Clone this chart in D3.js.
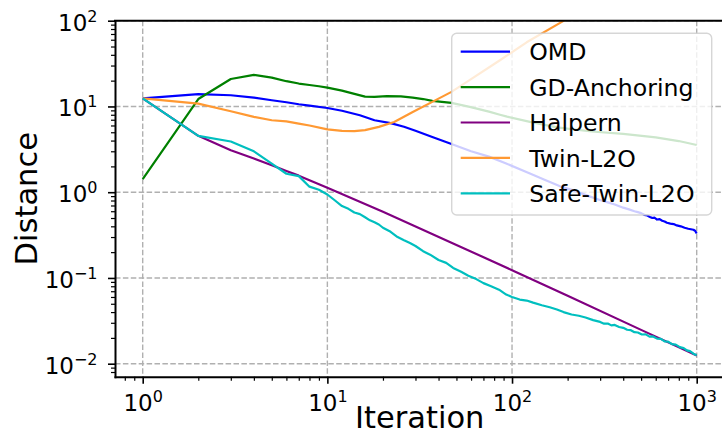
<!DOCTYPE html>
<html>
<head>
<meta charset="utf-8">
<script src="https://cdn.jsdelivr.net/npm/d3@7/dist/d3.min.js"></script>
<style>
  html, body { margin: 0; padding: 0; background: #ffffff; }
  svg { display: block; font-family: "DejaVu Sans", sans-serif; }
</style>
</head>
<body>
<svg id="chart" width="722" height="435"></svg>
<script>
// ---- series ----
const seriesNames  = ["OMD", "GD-Anchoring", "Halpern", "Twin-L2O", "Safe-Twin-L2O"];
const seriesColors = ["#0000ff", "#008000", "#800080", "#ff9933", "#00bfbf"];

const omdIter = [1, 2, 3, 4, 5, 6, 7, 8, 10, 12, 15, 18, 22, 26, 30, 37, 47, 60, 75, 93, 125, 150, 182, 215, 260, 299,
  330, 360, 400, 430, 460, 480, 500, 520, 540, 558, 575, 590, 610, 630, 650, 670, 690, 720, 750, 780, 820, 860, 900, 930, 960, 980, 1000];
const omdDist = [12.4, 13.9, 13.5, 12.7, 11.8, 11.2, 10.6, 10.2, 9.6, 8.9, 7.9, 6.9, 6.4, 5.8, 5.2, 4.4, 3.65, 3.0, 2.6, 2.16, 1.65, 1.4, 1.17, 1.05, 0.9, 0.81,
  0.76, 0.72, 0.66, 0.63, 0.6, 0.585, 0.57, 0.545, 0.535, 0.515, 0.5, 0.505, 0.48, 0.485, 0.465, 0.455, 0.44, 0.43, 0.425, 0.41, 0.4, 0.385, 0.375, 0.37, 0.365, 0.355, 0.33];

const gdIter = [1, 2, 3, 4, 5, 6, 7, 8, 9, 10, 12, 14, 16, 18, 21, 25, 29, 33, 37, 47, 59, 75, 86, 94, 125, 175, 270, 400, 600, 800, 1000];
const gdDist = [1.42, 12.2, 20.9, 23.3, 21.7, 19.7, 18.5, 17.8, 17.2, 16.6, 15.3, 14.0, 13.0, 12.9, 13.2, 13.1, 12.7, 12.2, 11.6, 11.0, 9.9, 8.7, 8.0, 7.6, 6.6, 5.7, 5.1, 4.8, 4.35, 3.95, 3.55];

const halpernIter = [1, 2, 3, 4, 5, 6, 7, 8, 10, 20, 50, 100, 200, 500, 1000];
const halpernDist = [12.4, 4.54, 3.09, 2.47, 2.06, 1.77, 1.56, 1.38, 1.13, 0.59, 0.243, 0.123, 0.062, 0.0248, 0.0125];

const twinIter = [1, 2, 3, 4, 5, 6, 7, 8, 10, 12, 14, 16, 19, 23, 29, 37, 47, 60, 86, 120, 186, 260];
const twinDist = [12.4, 10.8, 8.8, 7.55, 6.9, 6.7, 6.3, 6.0, 5.4, 5.2, 5.15, 5.3, 5.78, 6.6, 8.6, 11.3, 14.8, 20.8, 34.6, 56, 97, 150];

const safeIter = [1, 2, 3, 4, 5, 6, 7, 8, 9, 10, 11, 12, 13, 14, 15, 16, 17, 18, 19, 20, 22, 24, 26, 28, 30, 33, 36, 40, 44, 48,
  53, 58, 64, 70, 77, 85, 93, 100, 110, 120, 130, 145, 160, 175, 190, 210, 230, 250, 275,
  300, 315, 330, 345, 360, 380, 400, 420, 440, 460, 480, 505, 530, 555, 580, 610, 640, 670, 700, 735, 770, 810, 850, 885, 920, 960, 1000];
const safeDist = [12.4, 4.54, 3.9, 3.0, 2.15, 1.64, 1.54, 1.16, 1.07, 0.94, 0.8, 0.69, 0.64, 0.58, 0.555, 0.51, 0.47, 0.445, 0.42, 0.385, 0.345, 0.3, 0.275, 0.255, 0.236, 0.205, 0.187, 0.162, 0.15, 0.131,
  0.118, 0.106, 0.097, 0.087, 0.08, 0.073, 0.064, 0.06, 0.056, 0.0545, 0.0515, 0.048, 0.0455, 0.0428, 0.04, 0.0375, 0.0362, 0.0346, 0.0322,
  0.0307, 0.0293, 0.0294, 0.028, 0.0283, 0.0268, 0.0262, 0.0249, 0.0246, 0.0233, 0.0231, 0.0219, 0.022, 0.0207, 0.0208, 0.0196, 0.0195, 0.0182, 0.0181, 0.0169, 0.0167, 0.0156, 0.0152, 0.0143, 0.014, 0.0131, 0.01256];

const seriesIters = [omdIter, gdIter, halpernIter, twinIter, safeIter];
const seriesDists = [omdDist, gdDist, halpernDist, twinDist, safeDist];

// ---- axis ticks (powers of ten) ----
const xTickExponents = [0, 1, 2, 3];
const yTickExponents = [-2, -1, 0, 1, 2];
const xLabel = "Iteration";
const yLabel = "Distance";

// ---- layout ----
const plot = { left: 115, right: 724.4, top: 20.7, bottom: 376.7 };

const svg = d3.select("#chart");

const x = d3.scaleLog().domain([Math.pow(10, -0.15), Math.pow(10, 3.15)]).range([plot.left, plot.right]);
const y = d3.scaleLog().domain([Math.pow(10, -2.1516), 100]).range([plot.bottom, plot.top]);

const xMajor = xTickExponents.map(e => Math.pow(10, e));
const yMajor = yTickExponents.map(e => Math.pow(10, e));
function minorTicks(scale) {
  const [a, b] = scale.domain();
  const out = [];
  for (let e = Math.floor(Math.log10(a)) - 1; e <= Math.ceil(Math.log10(b)); e++) {
    for (let m = 2; m <= 9; m++) {
      const v = m * Math.pow(10, e);
      if (v >= a && v <= b) out.push(v);
    }
  }
  return out;
}

// grid
const grid = svg.append("g").attr("stroke", "#b0b0b0").attr("stroke-width", 1.4)
  .attr("stroke-dasharray", "5.5,2.4");
grid.selectAll("line.gx").data(xMajor).join("line").attr("class", "gx")
  .attr("x1", d => x(d)).attr("x2", d => x(d)).attr("y1", plot.top).attr("y2", plot.bottom);
grid.selectAll("line.gy").data(yMajor).join("line").attr("class", "gy")
  .attr("y1", d => y(d)).attr("y2", d => y(d)).attr("x1", plot.left).attr("x2", plot.right);

// lines
svg.append("clipPath").attr("id", "plotclip").append("rect")
  .attr("x", plot.left).attr("y", plot.top)
  .attr("width", plot.right - plot.left).attr("height", plot.bottom - plot.top);

const line = d3.line().x(d => x(d[0])).y(d => y(d[1]));
const linesG = svg.append("g").attr("clip-path", "url(#plotclip)");
seriesNames.forEach((name, i) => {
  const pts = seriesIters[i].map((it, j) => [it, seriesDists[i][j]]);
  linesG.append("path").datum(pts)
    .attr("fill", "none").attr("stroke", seriesColors[i]).attr("stroke-width", 2.2)
    .attr("stroke-linejoin", "round").attr("stroke-linecap", "butt")
    .attr("d", line);
});

// axes
function styleAxis(g) {
  g.attr("font-family", null).attr("font-size", null);
  g.select(".domain").attr("stroke", "#000").attr("stroke-width", 2).attr("stroke-linecap", "square");
  g.selectAll(".tick line").attr("stroke", "#000").attr("stroke-width", 1.6);
}
function powerLabel(textSel, fontSize, supSize, supRaise) {
  textSel.each(function (d) {
    const t = d3.select(this);
    const e = Math.round(Math.log10(d));
    t.text(null).attr("font-size", fontSize).attr("fill", "#000");
    t.append("tspan").text("10");
    t.append("tspan").attr("font-size", supSize).attr("dy", -supRaise)
      .text(e < 0 ? "\u2212" + (-e) : String(e));
  });
}

const gxMinor = svg.append("g").attr("transform", `translate(0,${plot.bottom})`)
  .call(d3.axisBottom(x).tickValues(minorTicks(x)).tickSize(4).tickSizeOuter(0).tickFormat(""));
gxMinor.select(".domain").remove();
gxMinor.selectAll(".tick line").attr("stroke", "#000").attr("stroke-width", 1.2);
gxMinor.selectAll(".tick text").remove();

const gyMinor = svg.append("g").attr("transform", `translate(${plot.left},0)`)
  .call(d3.axisLeft(y).tickValues(minorTicks(y)).tickSize(4).tickSizeOuter(0).tickFormat(""));
gyMinor.select(".domain").remove();
gyMinor.selectAll(".tick line").attr("stroke", "#000").attr("stroke-width", 1.2);
gyMinor.selectAll(".tick text").remove();

const gx = svg.append("g").attr("transform", `translate(0,${plot.bottom})`)
  .call(d3.axisBottom(x).tickValues(xMajor).tickSize(7).tickSizeOuter(0).tickFormat(""));
styleAxis(gx);
gx.selectAll(".tick text").attr("y", 34).attr("dy", 0).attr("text-anchor", "middle")
  .call(powerLabel, 23, 16, 9);

const gy = svg.append("g").attr("transform", `translate(${plot.left},0)`)
  .call(d3.axisLeft(y).tickValues(yMajor).tickSize(7).tickSizeOuter(0).tickFormat(""));
styleAxis(gy);
gy.selectAll(".tick text").attr("x", -17.5).attr("dy", 9.3).attr("text-anchor", "end")
  .call(powerLabel, 23, 16, 9);

// top and right spines
svg.append("line").attr("x1", plot.left).attr("x2", plot.right)
  .attr("y1", plot.top).attr("y2", plot.top)
  .attr("stroke", "#000").attr("stroke-width", 2).attr("stroke-linecap", "square");
svg.append("line").attr("x1", plot.right).attr("x2", plot.right)
  .attr("y1", plot.top).attr("y2", plot.bottom)
  .attr("stroke", "#000").attr("stroke-width", 2);

// axis titles
svg.append("text").attr("x", (plot.left + plot.right) / 2).attr("y", 428.3)
  .attr("text-anchor", "middle").attr("font-size", 30.5).attr("fill", "#000").text(xLabel);
svg.append("text").attr("transform", `translate(37.3,${(plot.top + plot.bottom) / 2}) rotate(-90)`)
  .attr("text-anchor", "middle").attr("font-size", 30.5).attr("fill", "#000").text(yLabel);

// legend
const legend = svg.append("g");
legend.append("rect").attr("x", 451.7).attr("y", 33.3).attr("width", 260).attr("height", 181.7)
  .attr("rx", 5).attr("ry", 5)
  .attr("fill", "#ffffff").attr("fill-opacity", 0.8)
  .attr("stroke", "#cccccc").attr("stroke-opacity", 0.8).attr("stroke-width", 1.4);
const rows = legend.selectAll("g.row").data(seriesNames).join("g").attr("class", "row")
  .attr("transform", (d, i) => `translate(0,${51.7 + i * 35.4})`);
rows.append("line").attr("x1", 460.7).attr("x2", 510).attr("y1", 0).attr("y2", 0)
  .attr("stroke", (d, i) => seriesColors[i]).attr("stroke-width", 2.2);
rows.append("text").attr("x", 529.3).attr("y", 8.6).attr("font-size", 23.6).attr("fill", "#000")
  .text(d => d);
</script>
</body>
</html>
